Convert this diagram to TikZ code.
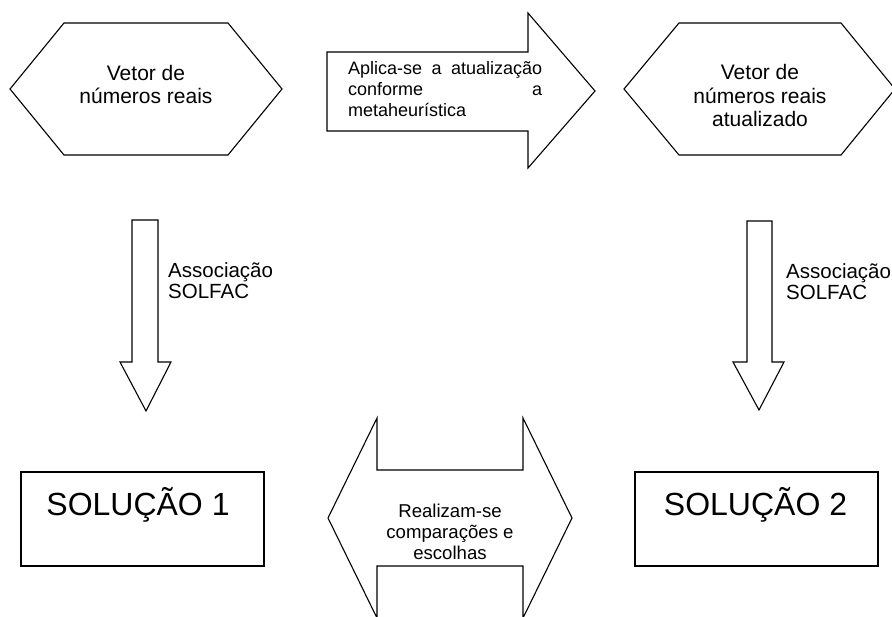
\documentclass[tikz,border=0pt]{standalone}
\usepackage{fontspec}
\setmainfont{Liberation Sans}
\usetikzlibrary{positioning}
\tikzset{blk/.style={draw=black,line width=1.1pt,fill=white,line join=miter},hextxt/.style={inner sep=0pt,align=center,anchor=base,font=\fontsize{21}{23.7}\selectfont},arrtxt/.style={inner sep=0pt,font=\fontsize{18}{21}\selectfont},soltxt/.style={inner sep=0pt,anchor=base,font=\fontsize{32}{34}\selectfont},asstxt/.style={inner sep=0pt,align=left,anchor=base west,font=\fontsize{20.5}{21}\selectfont}}

\begin{document}
\begin{tikzpicture}[x=1pt,y=-1pt]
\useasboundingbox (0,0) rectangle (892,617);
\clip (0,0) rectangle (892,617);
\draw[blk] (10,89)--(64,23)--(228,23)--(282,89)--(228,155)--(64,155)--cycle;
\draw[blk] (624,89)--(679,23)--(841,23)--(895,89)--(841,155)--(679,155)--cycle;
\draw[blk] (327,52)--(528,52)--(528,13)--(595,91)--(528,168)--(528,131)--(327,131)--cycle;
\draw[blk] (132,220)--(158,220)--(158,362)--(171,362)--(146,411)--(120,362)--(132,362)--cycle;
\draw[blk] (747,221)--(772,221)--(772,362)--(784,362)--(759,410)--(733,362)--(747,362)--cycle;
\draw[blk] (328,518)--(377,418)--(377,470)--(523,470)--(523,418)--(572,518)--(523,618)--(523,566)--(377,566)--(377,618)--cycle;
\draw[blk] (21,472) rectangle (264,566);
\draw[blk] (635,472) rectangle (878,566);
\node[hextxt] (vet1) at (146,104) {Vetor de\\números reais};
\node[hextxt] (vet2) at (760,127) {Vetor de\\números reais\\atualizado};
\node[arrtxt,anchor=base west,text width=194pt,align=justify] (atual) at (348,75) {Aplica-se a atualização\linebreak conforme a\linebreak metaheurística};
\node[asstxt] (assoc1) at (168,299) {Associação\\SOLFAC};
\node[asstxt] (assoc2) at (786,300) {Associação\\SOLFAC};
\node[arrtxt,align=center,anchor=base,font=\fontsize{18.6}{21}\selectfont] (comp) at (450,559) {Realizam-se\\comparações e\\escolhas};
\node[soltxt] (sol1) at (138,515) {SOLUÇÃO 1};
\node[soltxt] (sol2) at (755.5,515) {SOLUÇÃO 2};
\end{tikzpicture}
\end{document}
